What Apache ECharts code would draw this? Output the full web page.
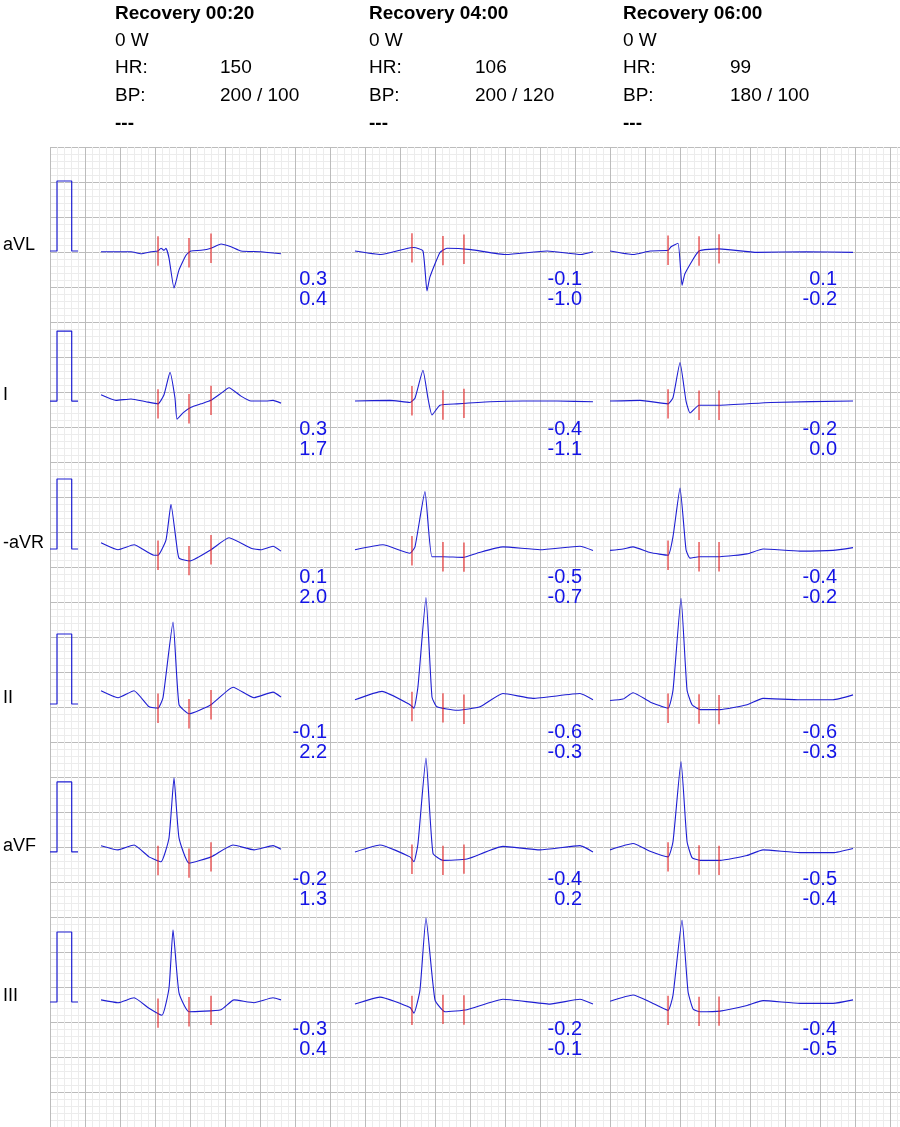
<!DOCTYPE html>
<html><head><meta charset="utf-8">
<script src="https://cdn.jsdelivr.net/npm/echarts@6/dist/echarts.min.js"></script>
<style>html,body{margin:0;padding:0;background:#fff}#c{width:900px;height:1127px}</style>
</head><body><div id="c"></div>
<script>
// ---- data ----
const leads = ['aVL','I','-aVR','II','aVF','III'];
const stageTitles = ['Recovery 00:20','Recovery 04:00','Recovery 06:00'];
const stageLoad = ['0 W','0 W','0 W'];
const stageHR = ['150','106','99'];
const stageBP = ['200 / 100','200 / 120','180 / 100'];
const stageNote = ['---','---','---'];
// ST measurements per column (top = level, bottom = slope)
const stTop1 = ['0.3','0.3','0.1','-0.1','-0.2','-0.3'];
const stBot1 = ['0.4','1.7','2.0','2.2','1.3','0.4'];
const stTop2 = ['-0.1','-0.4','-0.5','-0.6','-0.4','-0.2'];
const stBot2 = ['-1.0','-1.1','-0.7','-0.3','0.2','-0.1'];
const stTop3 = ['0.1','-0.2','-0.4','-0.6','-0.5','-0.4'];
const stBot3 = ['-0.2','0.0','-0.2','-0.3','-0.4','-0.5'];
// markers (samples at 175 Hz relative to QRS onset)
const marks1 = [0,31,53], marks2 = [0,31,52], marks3 = [0,31,51];
// waveforms: [sample @175Hz rel. QRS onset, mV]
const c1_aVL=[[-57,-0.01],[-27,-0.01],[-17,-0.04],[-7,-0.01],[0,0],[3,0.04],[6,0.01],[8,0.04],[11,-0.1],[16,-0.53],[21,-0.27],[28,-0.06],[33,0],[43,0.01],[53,0.04],[63,0.1],[73,0.06],[83,0],[103,-0.01],[123,-0.04]];
const c1_I=[[-57,0.09],[-42,0.01],[-27,0.03],[-12,-0.01],[0,-0.04],[6,0.09],[12,0.41],[17,0.04],[19,-0.26],[25,-0.17],[33,-0.09],[43,-0.04],[53,0.01],[63,0.11],[71,0.19],[83,0.07],[93,0],[108,0],[115,0.01],[123,-0.03]];
const c1_aVR=[[-57,0.09],[-40,-0.01],[-24,0.06],[-4,-0.09],[0,-0.09],[8,0.13],[13,0.64],[18,0.13],[21,-0.13],[32,-0.17],[53,-0.01],[71,0.16],[93,0.01],[103,-0.01],[115,0.04],[123,-0.03]];
const c1_II=[[-57,0.19],[-40,0.09],[-24,0.19],[-9,-0.04],[0,-0.06],[5,0.09],[15,1.17],[21,-0.01],[31,-0.14],[53,-0.01],[75,0.24],[96,0.09],[115,0.17],[123,0.1]];
const c1_aVF=[[-57,0.09],[-40,0.03],[-24,0.1],[-9,-0.07],[3,-0.14],[11,0.2],[16,1.06],[21,0.2],[31,-0.16],[53,-0.07],[75,0.1],[96,0.03],[115,0.09],[123,0.04]];
const c1_III=[[-57,0.03],[-40,-0.01],[-24,0.06],[-9,-0.09],[4,-0.19],[11,0.2],[15,1.03],[21,0.13],[31,-0.14],[63,-0.11],[76,0.03],[96,-0.01],[115,0.06],[123,0.03]];
const c2_aVL=[[-57,0],[-31,-0.05],[-7,0.03],[2,0.05],[11,0],[15,-0.57],[18,-0.37],[28,-0.02],[35,0.04],[59,0.02],[94,-0.05],[135,0],[169,-0.05],[181,-0.01]];
const c2_I=[[-57,0],[-22,0.01],[-2,-0.02],[3,0.04],[11,0.44],[16,0.04],[20,-0.2],[28,-0.06],[45,-0.04],[78,-0.01],[111,0],[145,0],[181,-0.01]];
const c2_aVR=[[-57,-0.01],[-29,0.06],[-2,-0.06],[3,0.03],[13,0.82],[20,-0.11],[31,-0.11],[51,-0.12],[65,-0.06],[91,0.03],[128,-0.01],[168,0.04],[181,-0.02]];
const c2_II=[[-57,0.06],[-30,0.18],[-2,-0.01],[2,-0.06],[6,0.25],[14,1.52],[20,0.1],[25,-0.04],[45,-0.09],[68,-0.04],[91,0.15],[121,0.08],[168,0.15],[181,0.06]];
const c2_aVF=[[-57,0],[-32,0.1],[-2,-0.07],[2,-0.14],[6,0.12],[14,1.34],[21,-0.02],[31,-0.12],[55,-0.1],[91,0.08],[128,0.03],[168,0.09],[181,0]];
const c2_III=[[-57,-0.03],[-32,0.07],[-2,-0.08],[2,-0.16],[8,0.17],[14,1.2],[23,0.03],[33,-0.14],[55,-0.11],[91,0.04],[138,-0.03],[168,0.04],[181,-0.03]];
const c3_aVL=[[-58,0],[-35,-0.05],[-18,0],[0,0.01],[3,0.06],[10,0.11],[14,-0.49],[17,-0.32],[31,0],[51,0.03],[89,-0.02],[138,-0.01],[185,-0.02]];
const c3_I=[[-58,0],[-28,0.01],[0,-0.04],[5,0.05],[12,0.55],[18,0],[22,-0.17],[31,-0.06],[51,-0.06],[103,-0.02],[185,0]];
const c3_aVR=[[-58,-0.02],[-45,0],[-35,0.03],[-18,-0.05],[0,-0.09],[5,0.18],[12,0.87],[18,-0.01],[22,-0.13],[31,-0.11],[52,-0.11],[79,-0.07],[95,0],[132,-0.03],[165,-0.02],[185,0.02]];
const c3_II=[[-58,0.05],[-45,0.07],[-35,0.16],[-18,0.03],[0,-0.06],[5,0.2],[13,1.51],[19,0.2],[24,-0.01],[32,-0.08],[52,-0.08],[79,-0.01],[95,0.08],[132,0.06],[165,0.06],[185,0.13]];
const c3_aVF=[[-58,0.03],[-35,0.12],[-18,0.01],[0,-0.07],[5,0.15],[13,1.29],[19,0.15],[24,-0.08],[32,-0.12],[52,-0.12],[79,-0.05],[95,0.03],[132,-0.01],[165,-0.01],[185,0.05]];
const c3_III=[[-58,0.01],[-35,0.1],[-18,0],[0,-0.12],[5,0.1],[14,1.17],[20,0.15],[25,-0.1],[32,-0.14],[52,-0.13],[79,-0.05],[95,0.02],[132,-0.02],[165,-0.02],[185,0.03]];
const calPulse=[[0,0],[1,0],[1,1],[3.1,1],[3.1,0],[4,0]]; // [mm, mV]

// ---- layout (paper mm) ----
const rowBaseMm=[14.86,36.29,57.43,79.57,100.71,122.14];
const colOnsetMm=[15.43,51.71,88.29];
const MMPERS=25, FS=175, MMPERMV=10;
const cols=[
 {w:[c1_aVL,c1_I,c1_aVR,c1_II,c1_aVF,c1_III],m:marks1,top:stTop1,bot:stBot1},
 {w:[c2_aVL,c2_I,c2_aVR,c2_II,c2_aVF,c2_III],m:marks2,top:stTop2,bot:stBot2},
 {w:[c3_aVL,c3_I,c3_aVR,c3_II,c3_aVF,c3_III],m:marks3,top:stTop3,bot:stBot3}];
function interp(w,t){for(let i=1;i<w.length;i++){if(w[i][0]>=t){const a=w[i-1],b=w[i];const f=(t-a[0])/((b[0]-a[0])||1);return a[1]+f*(b[1]-a[1]);}}return w[w.length-1][1];}
const series=[];
const markData=[];
cols.forEach((c,ci)=>{
 c.w.forEach((w,ri)=>{
  series.push({type:'line',showSymbol:false,silent:true,animation:false,smooth:0.15,
   lineStyle:{color:'#1e1ed2',width:1.1},
   data:w.map(p=>[colOnsetMm[ci]+p[0]/FS*MMPERS,rowBaseMm[ri]-p[1]*MMPERMV])});
  c.m.forEach(t=>{const x=colOnsetMm[ci]+t/FS*MMPERS;const y=rowBaseMm[ri]-interp(w,t)*MMPERMV;
   markData.push([x,y-2.1],[x,y+2.1],'-');});
 });
});
series.push({type:'line',showSymbol:false,silent:true,animation:false,connectNulls:false,
 lineStyle:{color:'#e02020',width:1.1},data:markData});
rowBaseMm.forEach(b=>{
 series.push({type:'line',showSymbol:false,silent:true,animation:false,
  lineStyle:{color:'#1e1ed2',width:1.2},data:calPulse.map(p=>[p[0],b-p[1]*MMPERMV])});
});

const GL=50,GT=147,PX=7;
const graphic=[];
const FONT='"Liberation Sans", Arial, sans-serif';
const txt=(x,y,s,opt)=>graphic.push({type:'text',x,y,z:100,style:Object.assign({text:s,fill:'#000',font:'19px '+FONT,textVerticalAlign:'middle'},opt||{})});
const hdrX=[115,369,623], valX=[220,475,730];
stageTitles.forEach((s,i)=>{
 txt(hdrX[i],14,s,{font:'bold 19px '+FONT});
 txt(hdrX[i],41,stageLoad[i]);
 txt(hdrX[i],68,'HR:');txt(valX[i],68,stageHR[i]);
 txt(hdrX[i],96,'BP:');txt(valX[i],96,stageBP[i]);
 txt(hdrX[i],124,stageNote[i],{font:'bold 19px '+FONT});
});
leads.forEach((l,ri)=>txt(3,GT+rowBaseMm[ri]*PX-6,l,{font:'18px '+FONT}));
const stRight=[327,582,837];
cols.forEach((c,ci)=>{rowBaseMm.forEach((b,ri)=>{
 const y=GT+b*PX;
 txt(stRight[ci],y+28,c.top[ri],{fill:'#1414e6',font:'20px '+FONT,textAlign:'right'});
 txt(stRight[ci],y+48,c.bot[ri],{fill:'#1414e6',font:'20px '+FONT,textAlign:'right'});
});});

const mkX=(iv,col)=>({type:'value',min:0,max:850/PX,interval:iv,axisLine:{show:false},axisTick:{show:false},axisLabel:{show:false},splitLine:{show:true,lineStyle:{color:col,width:1}}});
const mkY=(iv,col)=>({type:'value',inverse:true,min:0,max:980/PX,interval:iv,axisLine:{show:false},axisTick:{show:false},axisLabel:{show:false},splitLine:{show:true,lineStyle:{color:col,width:1}}});
const chart=echarts.init(document.getElementById('c'),null,{renderer:'canvas'});
chart.setOption({
 animation:false,backgroundColor:'#fff',
 grid:[{left:GL,top:GT,width:850,height:980},{left:GL,top:GT,width:850,height:980}],
 xAxis:[Object.assign(mkX(1,'#ececec'),{gridIndex:0}),Object.assign(mkX(5,'#bcbcbc'),{gridIndex:1})],
 yAxis:[Object.assign(mkY(1,'#ececec'),{gridIndex:0}),Object.assign(mkY(5,'#bcbcbc'),{gridIndex:1})],
 series:series.map(s=>Object.assign(s,{xAxisIndex:1,yAxisIndex:1})),
 graphic
});
</script></body></html>
